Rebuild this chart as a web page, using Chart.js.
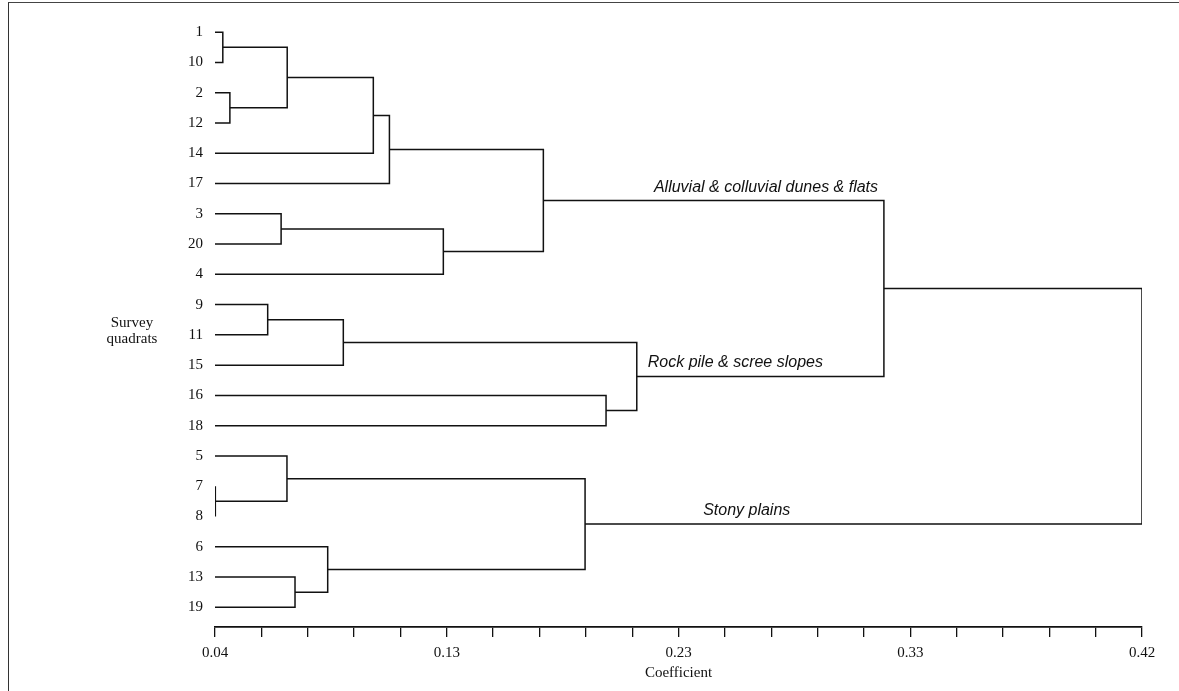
<!DOCTYPE html>
<html>
<head>
<meta charset="utf-8">
<title>Survey quadrats dendrogram</title>
<script src="https://cdn.jsdelivr.net/npm/chart.js@4.4.1/dist/chart.umd.min.js"></script>
<style>
body{margin:0;background:#fff;}
#wrap{position:relative;width:1179px;height:691px;overflow:hidden;}
#frame{position:absolute;left:8px;top:2px;width:1180px;height:700px;border-left:1px solid #333;border-top:1px solid #444;}
#myChart{position:absolute;left:0;top:0;}
</style>
</head>
<body>
<div id="wrap">
  <div id="frame"></div>
  <canvas id="myChart" width="1179" height="691"></canvas>
</div>
<script>
// leaves, top to bottom
const leafLabels = ['1','10','2','12','14','17','3','20','4','9','11','15','16','18','5','7','8','6','13','19']

// merges (mN = result of merge N)
const mergeLeft  = ['1','2','m0','m2','m3','3','m5','m4','9','m8','16','m9','m7','7','5','13','6','m14','m12']
const mergeRight = ['10','12','m1','14','17','20','4','m6','11','15','18','m10','m11','8','m13','19','m15','m16','m17']
const mergeCoef  = [0.0432,0.0461,0.0696,0.1049,0.1115,0.0671,0.1336,0.1746,0.0616,0.0926,0.2003,0.2129,0.3142,0.0402,0.0695,0.0728,0.0862,0.1917,0.42]

// x axis
const xMin = 0.04
const xMax = 0.42
const tickValues = [0.04,0.059,0.078,0.097,0.116,0.135,0.154,0.173,0.192,0.211,0.23,0.249,0.268,0.287,0.306,0.325,0.344,0.363,0.382,0.401,0.42]
const tickLabels = ['0.04','','','','','0.13','','','','','0.23','','','','','0.33','','','','','0.42']

// group names, sitting on the branch of a merge
const groupNames = ['Alluvial & colluvial dunes & flats','Rock pile & scree slopes','Stony plains']
const groupNodes = ['m7','m11','m17']
const groupX     = [0.3118,0.2174,0.2401]
const groupAlign = ['right','left','left']

const lineColor = '#111'
const serif = '"Liberation Serif", "Times New Roman", serif'

// build bracket lines
const pos = {}
leafLabels.forEach((l,i)=>{ pos[l] = {x:xMin, y:i} })

const datasets = []
mergeLeft.forEach((a,i)=>{
  const b = mergeRight[i]
  const c = mergeCoef[i]
  const pa = pos[a], pb = pos[b]
  datasets.push({
    data:[{x:pa.x,y:pa.y},{x:c,y:pa.y},{x:c,y:pb.y},{x:pb.x,y:pb.y}],
    showLine:true,
    borderColor:lineColor,
    borderWidth:1.5,
    pointRadius:0,
    tension:0
  })
  pos['m'+i] = {x:c, y:(pa.y+pb.y)/2}
})

// texts drawn on top
const textPlugin = {
  id:'textPlugin',
  afterDraw(chart){
    const ctx = chart.ctx
    const xs = chart.scales.x, ys = chart.scales.y
    ctx.save()
    ctx.fillStyle = lineColor
    ctx.font = 'italic 16px "Liberation Sans", Arial, sans-serif'
    ctx.textBaseline = 'alphabetic'
    groupNames.forEach((t,i)=>{
      const n = pos[groupNodes[i]]
      ctx.textAlign = groupAlign[i]
      ctx.fillText(t, xs.getPixelForValue(groupX[i]), ys.getPixelForValue(n.y) - 9)
    })

    ctx.font = '15px ' + serif
    ctx.textAlign = 'center'
    ctx.textBaseline = 'middle'
    const sx = chart.chartArea.left - 83
    const sy = ys.getPixelForValue(9.5)
    ctx.fillText('Survey', sx, sy + 3)
    ctx.fillText('quadrats', sx, sy + 19)
    ctx.restore()
  }
}

const config = {
  type:'scatter',
  data:{ datasets:datasets },
  options:{
    responsive:false,
    animation:false,
    layout:{ padding:{ top:17, right:37, left:0, bottom:0 } },
    plugins:{ legend:{display:false}, tooltip:{enabled:false} },
    scales:{
      x:{
        type:'linear',
        position:'bottom',
        min:xMin,
        max:xMax,
        afterBuildTicks:(s)=>{ s.ticks = tickValues.map(v=>({value:v})) },
        afterFit:(s)=>{ s.height = 64 },
        ticks:{
          autoSkip:false,
          maxRotation:0,
          padding:7,
          color:lineColor,
          font:{ family:serif, size:15 },
          callback:(v,i)=>tickLabels[i]
        },
        grid:{ display:true, drawOnChartArea:false, drawTicks:true, tickLength:10, color:lineColor, lineWidth:1.3 },
        border:{ display:true, color:lineColor, width:1.8 },
        title:{
          display:true,
          text:'Coefficient',
          color:lineColor,
          font:{ family:serif, size:15 },
          padding:{ top:0, bottom:9 }
        }
      },
      y:{
        type:'linear',
        reverse:true,
        min:-0.5,
        max:19.65,
        afterBuildTicks:(s)=>{ s.ticks = leafLabels.map((l,i)=>({value:i})) },
        afterFit:(s)=>{ s.width = 215 },
        ticks:{
          autoSkip:false,
          padding:4,
          color:lineColor,
          font:{ family:serif, size:15 },
          callback:(v)=>leafLabels[v]
        },
        grid:{ display:false },
        border:{ display:false }
      }
    }
  },
  plugins:[textPlugin]
}

const myChart = new Chart(document.getElementById('myChart'), config)
</script>
</body>
</html>
